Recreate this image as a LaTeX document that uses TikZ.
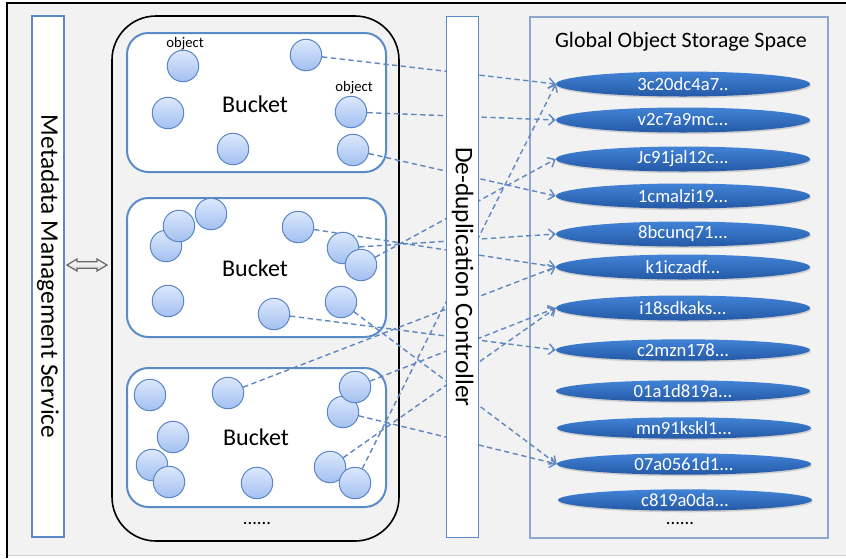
\documentclass[tikz,border=0pt]{standalone}
\usepackage{fontspec}
\setmainfont{Carlito}
\usetikzlibrary{arrows.meta,shapes.geometric,shadows}
\definecolor{bgc}{HTML}{F2F2F2}
\definecolor{barblue}{HTML}{5B8BC6}
\definecolor{dashc}{HTML}{5F87C2}
\definecolor{objtop}{HTML}{DCE8FC}
\definecolor{objbot}{HTML}{A3C0F1}
\definecolor{objline}{HTML}{5A86C5}
\definecolor{elltop}{HTML}{4283D6}
\definecolor{ellbot}{HTML}{2459A6}
\definecolor{storec}{HTML}{8EA6CB}
\pgfdeclarelayer{bg}
\pgfdeclarelayer{ln}
\pgfsetlayers{bg,ln,main}
\tikzset{
  obj/.style={circle, inner sep=0pt, minimum size=23.6pt, draw=objline, line width=0.75pt, top color=objtop, bottom color=objbot},
  hash/.style={ellipse, inner sep=0pt, minimum width=190.5pt, minimum height=18.75pt, top color=elltop, bottom color=ellbot, text=white, font=\fontsize{14}{16}\selectfont, drop shadow={shadow xshift=0.6pt, shadow yshift=-1.2pt, opacity=0.3}},
  hashs/.style={hash, minimum height=16pt},
  bar/.style={rectangle, draw=barblue, line width=1.1pt, fill=white, minimum width=24pt, minimum height=390.75pt, inner sep=0pt},
  bucketbox/.style={rectangle, rounded corners=16pt, draw=barblue, line width=1.5pt, fill=white, minimum width=194.25pt, minimum height=104.25pt},
  link/.style={draw=dashc, line width=1.05pt, dash pattern=on 4pt off 2.6pt, -{Straight Barb[length=4.5pt,width=8pt]}},
  bigtext/.style={font=\fontsize{19}{22}\selectfont},
  bucktext/.style={font=\fontsize{18}{21}\selectfont},
  objtext/.style={font=\fontsize{11}{13}\selectfont, inner sep=0pt},
  dots/.style={font=\fontsize{14}{16}\selectfont, inner sep=0pt}
}
\begin{document}
\begin{tikzpicture}[x=0.75pt, y=-0.75pt]
\useasboundingbox (0,0) rectangle (846,558);
\begin{pgfonlayer}{bg}
  \fill[white] (0,0) rectangle (846,558);
  \fill[bgc] (7,3) rectangle (846,556);
  \draw[line width=1.5pt, black] (7,558) -- (7,3) -- (846,3);
  \draw[line width=0.8pt, black!18] (8,555.5) -- (846,555.5);
  \node[bar] (meta) at (48,276.5) {};
  \node[rectangle, draw=black, line width=1.2pt, rounded corners=33pt, minimum width=215.25pt, minimum height=393.75pt] (pool) at (255.5,278.5) {};
  \node[bucketbox] (bk1) at (256.5,102.5) {};
  \node[bucketbox] (bk2) at (256.5,267.5) {};
  \node[bucketbox] (bk3) at (256.5,437.5) {};
  \node[rectangle, draw=storec, line width=1pt, minimum width=223.5pt, minimum height=390.75pt, drop shadow={shadow xshift=1pt, shadow yshift=-1pt, opacity=0.3}, fill=bgc] (store) at (679,277.5) {};
\end{pgfonlayer}
% metadata label and double arrow
\node[rotate=-90, bigtext] at (meta.center) {Metadata Management Service};
\coordinate (dbl) at (87,265);
\draw[draw=black!60, line width=0.9pt, top color=white, bottom color=black!15, line join=miter]
  ([xshift=-15pt]dbl) -- ++(7.5pt,4.5pt) -- ++(0,-2pt) -- ++(15pt,0) -- ++(0,2pt) -- ++(7.5pt,-4.5pt)
  -- ++(-7.5pt,-4.5pt) -- ++(0,2pt) -- ++(-15pt,0) -- ++(0,-2pt) -- cycle;
% bucket labels
\node[bucktext] (bl1) at (255,104) {Bucket};
\node[bucktext] (bl2) at (255,268) {Bucket};
\node[bucktext] (bl3) at (256,437) {Bucket};
\node[dots] (pd) at (257,524) {......};
% objects bucket 1
\node[obj] (o11) at (183,66) {};
\node[obj] (o12) at (306,55) {};
\node[obj] (o13) at (168,113) {};
\node[obj] (o14) at (233,149) {};
\node[obj] (o15) at (351,112) {};
\node[obj] (o16) at (353,150) {};
\node[objtext] (ot1) at (185,44) {object};
\node[objtext] (ot2) at (354,88) {object};
% bucket 2
\node[obj] (o21) at (166,246) {};
\node[obj] (o22) at (179,226) {};
\node[obj] (o23) at (211,214) {};
\node[obj] (o24) at (298,227) {};
\node[obj] (o25) at (343,248) {};
\node[obj] (o26) at (361,265) {};
\node[obj] (o27) at (168,301) {};
\node[obj] (o28) at (274,314) {};
\node[obj] (o29) at (341,302) {};
% bucket 3
\node[obj] (o31) at (150,395) {};
\node[obj] (o32) at (228,393) {};
\node[obj] (o33) at (343,412) {};
\node[obj] (o34) at (355,387) {};
\node[obj] (o35) at (152,465) {};
\node[obj] (o36) at (173,437) {};
\node[obj] (o37) at (169,482) {};
\node[obj] (o38) at (257,483) {};
\node[obj] (o39) at (330,467) {};
\node[obj] (o3a) at (355,483) {};
% controller
\node[bar] (dedup) at (462.5,277) {};
\node[rotate=-90, bigtext] at (dedup.center) {De-duplication Controller};
% storage
\node[font=\fontsize{16.5}{19}\selectfont] (stitle) at (681,42) {Global Object Storage Space};
\node[hash] (g1) at (683,84) {3c20dc4a7..};
\node[hash] (g2) at (683,120) {v2c7a9mc...};
\node[hash] (g3) at (683,159) {Jc91jal12c...};
\node[hash] (g4) at (683,196) {1cmalzi19...};
\node[hash] (g5) at (683,234) {8bcunq71...};
\node[hash] (g6) at (683,267) {k1iczadf...};
\node[hash] (g7) at (683,308) {i18sdkaks...};
\node[hashs] (g8) at (683,350) {c2mzn178...};
\node[hashs] (g9) at (683,391) {01a1d819a...};
\node[hashs] (g10) at (684,428) {mn91kskl1...};
\node[hashs] (g11) at (684,464) {07a0561d1...};
\node[hashs] (g12) at (685,500) {c819a0da...};
\node[dots] (sd) at (680,524) {......};
% links
\begin{pgfonlayer}{ln}
  \draw[link] (o12) -- (g1.west);
  \draw[link] (o15) -- (g2.west);
  \draw[link] (o16) -- (g4.west);
  \draw[link] (o24) -- (g6.west);
  \draw[link] (o25) -- (g5.west);
  \draw[link] (o26) -- (g3.west);
  \draw[link] (o28) -- (g8.west);
  \draw[link] (o29) -- (g11.west);
  \draw[link] (o32) -- (g6.west);
  \draw[link] (o34) -- (g7.west);
  \draw[link] (o33) -- (g11.west);
  \draw[link] (o39) -- (g7.west);
  \draw[link] (o3a) -- (g1.west);
\end{pgfonlayer}
\end{tikzpicture}
\end{document}
